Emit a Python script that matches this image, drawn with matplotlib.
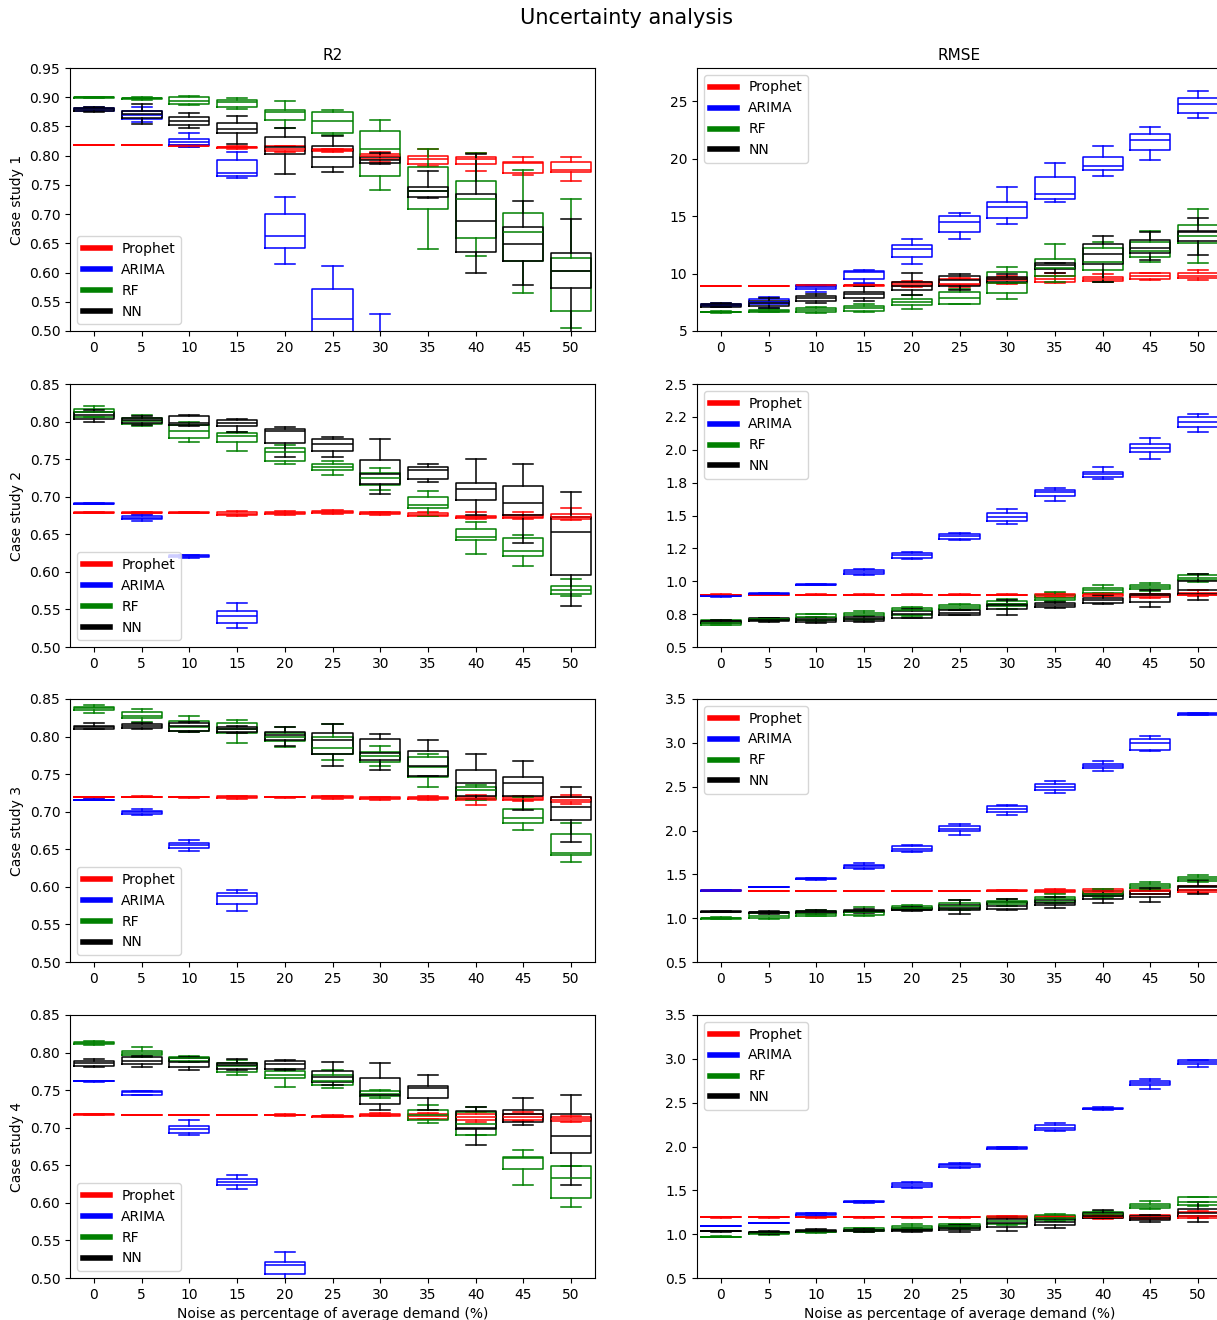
import matplotlib
matplotlib.use("Agg")
import matplotlib.pyplot as plt
from matplotlib.lines import Line2D
from matplotlib.ticker import MultipleLocator, FormatStrFormatter

noise = [0, 5, 10, 15, 20, 25, 30, 35, 40, 45, 50]
models = ['Prophet', 'ARIMA', 'RF', 'NN']
colors = ['red', 'blue', 'green', 'black']

# every row is (lower whisker, q1, median, q3, upper whisker) for one noise level

# ---- case study 1 ----
prophet1_r2 = [(0.8175, 0.8178, 0.818, 0.8182, 0.8185), (0.8175, 0.8178, 0.818, 0.8182, 0.8185),
               (0.815, 0.816, 0.817, 0.818, 0.819), (0.812, 0.813, 0.814, 0.815, 0.816),
               (0.807, 0.808, 0.811, 0.816, 0.817), (0.806, 0.808, 0.809, 0.811, 0.812),
               (0.790, 0.794, 0.799, 0.803, 0.807), (0.782, 0.786, 0.794, 0.800, 0.811),
               (0.773, 0.786, 0.794, 0.797, 0.804), (0.767, 0.771, 0.787, 0.790, 0.797),
               (0.757, 0.772, 0.776, 0.789, 0.797)]
arima1_r2 = [(0.876, 0.877, 0.879, 0.881, 0.883), (0.857, 0.863, 0.870, 0.876, 0.883),
             (0.815, 0.819, 0.823, 0.829, 0.839), (0.761, 0.765, 0.770, 0.793, 0.806),
             (0.614, 0.642, 0.663, 0.700, 0.730), (0.460, 0.490, 0.520, 0.572, 0.612),
             (0.410, 0.440, 0.460, 0.480, 0.529), (0.360, 0.380, 0.400, 0.420, 0.440),
             (0.330, 0.350, 0.370, 0.390, 0.410), (0.300, 0.320, 0.340, 0.360, 0.380),
             (0.270, 0.290, 0.310, 0.330, 0.350)]
rf1_r2 = [(0.899, 0.8995, 0.900, 0.9003, 0.9005), (0.896, 0.897, 0.898, 0.899, 0.900),
          (0.887, 0.888, 0.893, 0.900, 0.902), (0.879, 0.883, 0.891, 0.895, 0.899),
          (0.847, 0.861, 0.874, 0.878, 0.893), (0.835, 0.839, 0.860, 0.875, 0.878),
          (0.742, 0.765, 0.811, 0.842, 0.861), (0.640, 0.708, 0.739, 0.780, 0.811),
          (0.629, 0.659, 0.725, 0.756, 0.804), (0.565, 0.619, 0.669, 0.702, 0.776),
          (0.505, 0.535, 0.603, 0.625, 0.726)]
nn1_r2 = [(0.875, 0.877, 0.879, 0.882, 0.884), (0.855, 0.864, 0.872, 0.877, 0.889),
          (0.847, 0.853, 0.860, 0.866, 0.873), (0.820, 0.839, 0.845, 0.856, 0.868),
          (0.768, 0.802, 0.815, 0.832, 0.847), (0.772, 0.781, 0.798, 0.817, 0.833),
          (0.786, 0.787, 0.793, 0.797, 0.804), (0.728, 0.729, 0.740, 0.747, 0.774),
          (0.599, 0.636, 0.688, 0.735, 0.802), (0.579, 0.619, 0.649, 0.678, 0.722),
          (0.480, 0.573, 0.602, 0.633, 0.692)]

prophet1_rmse = [(8.88, 8.90, 8.92, 8.94, 8.96), (8.88, 8.90, 8.92, 8.94, 8.96),
                 (8.90, 8.93, 8.97, 9.00, 9.02), (8.92, 8.95, 9.00, 9.04, 9.06),
                 (8.84, 8.92, 9.13, 9.27, 9.36), (8.84, 8.98, 9.13, 9.50, 9.65),
                 (9.10, 9.22, 9.45, 9.65, 9.80), (9.16, 9.27, 9.50, 9.80, 10.09),
                 (9.27, 9.36, 9.56, 9.74, 9.94), (9.42, 9.56, 9.80, 10.03, 10.09),
                 (9.45, 9.60, 9.80, 10.05, 10.30)]
arima1_rmse = [(7.10, 7.18, 7.25, 7.32, 7.40), (7.03, 7.33, 7.56, 7.82, 7.99),
               (8.43, 8.63, 8.84, 8.98, 9.04), (9.16, 9.50, 10.10, 10.20, 10.29),
               (10.87, 11.40, 12.18, 12.50, 13.00), (13.00, 13.66, 14.50, 15.03, 15.26),
               (14.36, 14.88, 15.81, 16.25, 17.50), (16.25, 16.48, 16.92, 18.37, 19.62),
               (18.52, 19.01, 19.33, 20.17, 21.13), (19.91, 20.76, 21.63, 22.15, 22.76),
               (23.55, 23.98, 24.77, 25.26, 25.93)]
rf1_rmse = [(6.60, 6.63, 6.66, 6.69, 6.72), (6.62, 6.66, 6.74, 6.83, 6.88),
            (6.60, 6.66, 6.83, 7.03, 7.12), (6.66, 6.74, 6.98, 7.18, 7.33),
            (6.89, 7.24, 7.53, 7.76, 8.14), (7.33, 7.38, 7.85, 8.43, 8.63),
            (7.82, 8.34, 9.22, 10.17, 10.61), (9.27, 9.80, 10.52, 11.30, 12.56),
            (9.27, 10.29, 11.02, 12.20, 12.76), (11.05, 11.40, 11.98, 12.76, 13.72),
            (10.96, 12.70, 13.28, 14.24, 15.61)]
nn1_rmse = [(7.06, 7.12, 7.27, 7.38, 7.44), (7.00, 7.20, 7.40, 7.60, 7.90),
            (7.47, 7.65, 7.85, 8.05, 8.26), (7.62, 7.91, 8.26, 8.43, 8.92),
            (8.14, 8.55, 8.92, 9.27, 10.09), (8.55, 8.92, 9.45, 9.80, 10.00),
            (9.16, 9.27, 9.50, 9.71, 10.00), (10.09, 10.44, 10.73, 10.90, 10.96),
            (9.27, 10.80, 11.69, 12.60, 13.23), (11.20, 11.83, 12.27, 12.90, 13.58),
            (11.60, 12.85, 13.58, 13.72, 14.88)]

# ---- case study 2 ----
prophet2_r2 = [(0.678, 0.6785, 0.6787, 0.679, 0.6795), (0.677, 0.678, 0.6787, 0.679, 0.680),
               (0.678, 0.6783, 0.6787, 0.679, 0.6795), (0.675, 0.6755, 0.677, 0.680, 0.681),
               (0.676, 0.677, 0.678, 0.680, 0.681), (0.677, 0.678, 0.6795, 0.681, 0.682),
               (0.676, 0.677, 0.678, 0.679, 0.680), (0.674, 0.675, 0.676, 0.678, 0.679),
               (0.670, 0.672, 0.6733, 0.675, 0.679), (0.670, 0.672, 0.6733, 0.676, 0.680),
               (0.6689, 0.6702, 0.6733, 0.6764, 0.6844)]
arima2_r2 = [(0.690, 0.6903, 0.6907, 0.691, 0.6913), (0.668, 0.670, 0.672, 0.674, 0.676),
             (0.619, 0.620, 0.6208, 0.622, 0.623), (0.5258, 0.5324, 0.5413, 0.5484, 0.558),
             (0.440, 0.450, 0.460, 0.470, 0.480), (0.410, 0.420, 0.430, 0.440, 0.450),
             (0.380, 0.390, 0.400, 0.410, 0.420), (0.350, 0.360, 0.370, 0.380, 0.390),
             (0.320, 0.330, 0.340, 0.350, 0.360), (0.290, 0.300, 0.310, 0.320, 0.330),
             (0.260, 0.270, 0.280, 0.290, 0.300)]
rf2_r2 = [(0.806, 0.8064, 0.8121, 0.8167, 0.821), (0.7946, 0.7964, 0.8009, 0.8053, 0.809),
          (0.773, 0.7784, 0.7873, 0.7953, 0.800), (0.7606, 0.773, 0.781, 0.7842, 0.7864),
          (0.7433, 0.7473, 0.759, 0.7642, 0.7687), (0.7295, 0.7353, 0.740, 0.7442, 0.7473),
          (0.7089, 0.7155, 0.7244, 0.7311, 0.7378), (0.6745, 0.685, 0.6889, 0.699, 0.7078),
          (0.6244, 0.6422, 0.6467, 0.6564, 0.6667), (0.608, 0.6213, 0.6276, 0.6453, 0.6489),
          (0.5675, 0.570, 0.5756, 0.5813, 0.5902)]
nn2_r2 = [(0.799, 0.804, 0.809, 0.813, 0.815), (0.796, 0.798, 0.802, 0.805, 0.808),
          (0.7946, 0.7953, 0.798, 0.807, 0.809), (0.7864, 0.794, 0.798, 0.802, 0.8033),
          (0.7522, 0.7709, 0.7873, 0.790, 0.7922), (0.7531, 0.7607, 0.7704, 0.7762, 0.7798),
          (0.704, 0.7164, 0.730, 0.7484, 0.7767), (0.7198, 0.7233, 0.7353, 0.7389, 0.7442),
          (0.6755, 0.6955, 0.7098, 0.7178, 0.750), (0.6386, 0.6755, 0.6911, 0.7146, 0.743),
          (0.5542, 0.5964, 0.6524, 0.6733, 0.7058)]

prophet2_rmse = [(0.896, 0.897, 0.898, 0.899, 0.900), (0.896, 0.897, 0.898, 0.899, 0.900),
                 (0.896, 0.897, 0.898, 0.899, 0.900), (0.896, 0.897, 0.898, 0.899, 0.900),
                 (0.896, 0.897, 0.898, 0.899, 0.900), (0.896, 0.897, 0.898, 0.899, 0.900),
                 (0.896, 0.897, 0.898, 0.899, 0.900), (0.878, 0.881, 0.893, 0.906, 0.910),
                 (0.885, 0.890, 0.900, 0.906, 0.912), (0.875, 0.881, 0.893, 0.900, 0.906),
                 (0.890, 0.895, 0.898, 0.910, 0.930)]
arima2_rmse = [(0.884, 0.885, 0.886, 0.887, 0.888), (0.904, 0.905, 0.906, 0.907, 0.908),
               (0.973, 0.974, 0.975, 0.976, 0.977), (1.046, 1.053, 1.071, 1.089, 1.096),
               (1.173, 1.178, 1.198, 1.216, 1.223), (1.317, 1.325, 1.343, 1.360, 1.368),
               (1.434, 1.459, 1.490, 1.520, 1.553), (1.612, 1.650, 1.675, 1.693, 1.706),
               (1.774, 1.794, 1.815, 1.832, 1.870), (1.926, 1.985, 2.015, 2.040, 2.090),
               (2.132, 2.175, 2.208, 2.246, 2.269)]
rf2_rmse = [(0.665, 0.670, 0.685, 0.703, 0.708), (0.700, 0.705, 0.710, 0.715, 0.720),
            (0.695, 0.703, 0.728, 0.749, 0.754), (0.703, 0.716, 0.746, 0.759, 0.774),
            (0.736, 0.746, 0.779, 0.797, 0.805), (0.779, 0.787, 0.805, 0.822, 0.830),
            (0.792, 0.812, 0.830, 0.848, 0.863), (0.850, 0.860, 0.876, 0.893, 0.919),
            (0.906, 0.914, 0.931, 0.949, 0.970), (0.924, 0.939, 0.957, 0.975, 0.990),
            (0.995, 1.008, 1.028, 1.046, 1.058)]
nn2_rmse = [(0.680, 0.685, 0.695, 0.700, 0.705), (0.690, 0.695, 0.708, 0.718, 0.722),
            (0.685, 0.690, 0.708, 0.720, 0.725), (0.690, 0.695, 0.711, 0.728, 0.736),
            (0.720, 0.723, 0.749, 0.772, 0.792), (0.741, 0.746, 0.761, 0.779, 0.784),
            (0.746, 0.792, 0.817, 0.830, 0.855), (0.797, 0.805, 0.820, 0.835, 0.843),
            (0.830, 0.835, 0.855, 0.873, 0.893), (0.805, 0.843, 0.893, 0.906, 0.931),
            (0.860, 0.906, 0.937, 1.000, 1.058)]

# ---- case study 3 ----
prophet3_r2 = [(0.7188, 0.719, 0.7193, 0.7196, 0.7198), (0.7195, 0.7198, 0.720, 0.7202, 0.7205),
               (0.7188, 0.719, 0.7193, 0.7196, 0.7198), (0.717, 0.718, 0.7193, 0.7205, 0.721),
               (0.7188, 0.719, 0.7193, 0.7196, 0.7198), (0.717, 0.718, 0.7193, 0.7205, 0.721),
               (0.716, 0.7165, 0.718, 0.719, 0.720), (0.716, 0.717, 0.7184, 0.720, 0.721),
               (0.7096, 0.715, 0.7171, 0.719, 0.722), (0.714, 0.715, 0.7175, 0.720, 0.721),
               (0.710, 0.713, 0.7162, 0.720, 0.722)]
arima3_r2 = [(0.7155, 0.7158, 0.716, 0.7162, 0.7165), (0.696, 0.6976, 0.6995, 0.7012, 0.703),
             (0.6479, 0.6523, 0.6554, 0.6585, 0.663), (0.568, 0.5768, 0.5879, 0.5919, 0.5964),
             (0.440, 0.450, 0.460, 0.470, 0.480), (0.400, 0.410, 0.420, 0.430, 0.440),
             (0.360, 0.370, 0.380, 0.390, 0.400), (0.320, 0.330, 0.340, 0.350, 0.360),
             (0.280, 0.290, 0.300, 0.310, 0.320), (0.240, 0.250, 0.260, 0.270, 0.280),
             (0.200, 0.210, 0.220, 0.230, 0.240)]
rf3_r2 = [(0.8316, 0.8352, 0.8374, 0.8396, 0.8414), (0.8197, 0.8241, 0.8272, 0.8325, 0.8361),
          (0.8064, 0.8077, 0.813, 0.821, 0.8272), (0.7908, 0.8051, 0.8095, 0.8175, 0.822),
          (0.7855, 0.7944, 0.800, 0.8051, 0.813), (0.7686, 0.7766, 0.7842, 0.800, 0.8166),
          (0.7611, 0.7655, 0.774, 0.7798, 0.7877), (0.7331, 0.7464, 0.7597, 0.773, 0.7762),
          (0.7153, 0.7175, 0.7287, 0.7331, 0.7362), (0.6763, 0.6856, 0.6918, 0.7042, 0.720),
          (0.6333, 0.643, 0.6452, 0.6709, 0.6856)]
nn3_r2 = [(0.8095, 0.8104, 0.8121, 0.814, 0.8175), (0.8104, 0.8108, 0.8139, 0.8166, 0.8184),
          (0.8064, 0.8077, 0.8139, 0.8184, 0.8197), (0.8051, 0.8064, 0.810, 0.8121, 0.8139),
          (0.7873, 0.7953, 0.802, 0.8064, 0.813), (0.7611, 0.7762, 0.7953, 0.8042, 0.8166),
          (0.7553, 0.7686, 0.7776, 0.7962, 0.8037), (0.7473, 0.7478, 0.7606, 0.7811, 0.7953),
          (0.7175, 0.7207, 0.7384, 0.7549, 0.7762), (0.7029, 0.7207, 0.7384, 0.7456, 0.7677),
          (0.660, 0.6889, 0.7058, 0.720, 0.7324)]

prophet3_rmse = [(1.310, 1.312, 1.314, 1.316, 1.318), (1.306, 1.308, 1.310, 1.312, 1.314),
                 (1.306, 1.308, 1.310, 1.312, 1.314), (1.306, 1.308, 1.310, 1.312, 1.314),
                 (1.306, 1.308, 1.310, 1.312, 1.314), (1.306, 1.308, 1.310, 1.312, 1.314),
                 (1.310, 1.312, 1.314, 1.316, 1.318), (1.290, 1.297, 1.314, 1.325, 1.330),
                 (1.280, 1.290, 1.314, 1.330, 1.335), (1.270, 1.280, 1.306, 1.325, 1.330),
                 (1.290, 1.302, 1.325, 1.363, 1.370)]
arima3_rmse = [(1.313, 1.314, 1.315, 1.316, 1.317), (1.352, 1.354, 1.355, 1.356, 1.358),
               (1.440, 1.445, 1.450, 1.455, 1.460), (1.561, 1.572, 1.591, 1.610, 1.629),
               (1.760, 1.770, 1.793, 1.819, 1.830), (1.952, 1.998, 2.021, 2.047, 2.074),
               (2.177, 2.211, 2.245, 2.276, 2.287), (2.428, 2.466, 2.500, 2.530, 2.568),
               (2.675, 2.713, 2.736, 2.762, 2.789), (2.910, 2.922, 2.998, 3.047, 3.074),
               (3.315, 3.320, 3.329, 3.340, 3.345)]
rf3_rmse = [(0.990, 0.993, 0.998, 1.003, 1.008), (0.995, 1.002, 1.028, 1.059, 1.066),
            (1.020, 1.028, 1.051, 1.082, 1.090), (1.028, 1.040, 1.066, 1.085, 1.127),
            (1.090, 1.100, 1.112, 1.135, 1.154), (1.090, 1.105, 1.143, 1.173, 1.211),
            (1.140, 1.160, 1.181, 1.200, 1.222), (1.170, 1.190, 1.219, 1.245, 1.279),
            (1.230, 1.250, 1.279, 1.310, 1.333), (1.320, 1.340, 1.363, 1.385, 1.412),
            (1.410, 1.420, 1.447, 1.475, 1.496)]
nn3_rmse = [(1.065, 1.070, 1.074, 1.078, 1.082), (1.050, 1.058, 1.066, 1.075, 1.080),
            (1.050, 1.058, 1.070, 1.082, 1.090), (1.060, 1.070, 1.082, 1.090, 1.100),
            (1.080, 1.090, 1.097, 1.116, 1.125), (1.051, 1.097, 1.116, 1.154, 1.203),
            (1.097, 1.108, 1.143, 1.181, 1.222), (1.112, 1.146, 1.173, 1.211, 1.240),
            (1.173, 1.219, 1.249, 1.279, 1.306), (1.188, 1.241, 1.279, 1.314, 1.340),
            (1.279, 1.320, 1.355, 1.370, 1.431)]

# ---- case study 4 ----
prophet4_r2 = [(0.7172, 0.7174, 0.7176, 0.7178, 0.718), (0.7166, 0.7168, 0.717, 0.7172, 0.7174),
               (0.7166, 0.7168, 0.717, 0.7172, 0.7174), (0.7166, 0.7168, 0.717, 0.7172, 0.7174),
               (0.716, 0.7165, 0.717, 0.7175, 0.718), (0.714, 0.7145, 0.7153, 0.716, 0.7165),
               (0.715, 0.716, 0.7167, 0.718, 0.719), (0.711, 0.7122, 0.7153, 0.7189, 0.720),
               (0.708, 0.710, 0.7136, 0.7189, 0.721), (0.709, 0.710, 0.7144, 0.7189, 0.721),
               (0.708, 0.7087, 0.7122, 0.7145, 0.716)]
arima4_r2 = [(0.7615, 0.7618, 0.762, 0.7622, 0.7625), (0.7435, 0.7442, 0.7469, 0.7487, 0.749),
             (0.690, 0.6936, 0.698, 0.7025, 0.710), (0.6181, 0.6243, 0.6278, 0.6314, 0.6368),
             (0.490, 0.5058, 0.5178, 0.5213, 0.5346), (0.400, 0.410, 0.420, 0.430, 0.440),
             (0.330, 0.340, 0.350, 0.360, 0.370), (0.270, 0.280, 0.290, 0.300, 0.310),
             (0.210, 0.220, 0.230, 0.240, 0.250), (0.150, 0.160, 0.170, 0.180, 0.190),
             (0.090, 0.100, 0.110, 0.120, 0.130)]
rf4_r2 = [(0.8105, 0.8115, 0.813, 0.8145, 0.8155), (0.7944, 0.7966, 0.7997, 0.8022, 0.8068),
          (0.787, 0.7891, 0.7922, 0.7944, 0.796), (0.7708, 0.7744, 0.7824, 0.7855, 0.790),
          (0.7544, 0.7655, 0.7708, 0.7757, 0.7788), (0.7531, 0.7566, 0.762, 0.770, 0.7766),
          (0.7389, 0.7424, 0.7455, 0.7486, 0.750), (0.7069, 0.710, 0.7167, 0.7242, 0.730),
          (0.690, 0.6909, 0.7056, 0.7211, 0.7278), (0.6235, 0.6447, 0.660, 0.6611, 0.670),
          (0.5946, 0.6066, 0.6336, 0.6487, 0.6487)]
nn4_r2 = [(0.7802, 0.7824, 0.7855, 0.7891, 0.7909), (0.7806, 0.7842, 0.7886, 0.7935, 0.796),
          (0.7762, 0.781, 0.7877, 0.7922, 0.7944), (0.7766, 0.7788, 0.7833, 0.7864, 0.7913),
          (0.777, 0.7788, 0.7842, 0.7891, 0.790), (0.7566, 0.7602, 0.7678, 0.7753, 0.7868),
          (0.7242, 0.7309, 0.7442, 0.7655, 0.7855), (0.7233, 0.7398, 0.7531, 0.7553, 0.7708),
          (0.6776, 0.6985, 0.6998, 0.722, 0.7278), (0.7042, 0.7078, 0.7189, 0.7233, 0.7389),
          (0.6243, 0.667, 0.6887, 0.7189, 0.7442)]

prophet4_rmse = [(1.190, 1.192, 1.194, 1.196, 1.198), (1.190, 1.192, 1.194, 1.196, 1.198),
                 (1.190, 1.192, 1.194, 1.196, 1.198), (1.190, 1.192, 1.194, 1.196, 1.198),
                 (1.190, 1.192, 1.194, 1.196, 1.198), (1.190, 1.192, 1.194, 1.196, 1.198),
                 (1.185, 1.190, 1.194, 1.206, 1.210), (1.185, 1.190, 1.194, 1.206, 1.210),
                 (1.175, 1.179, 1.194, 1.217, 1.220), (1.170, 1.171, 1.194, 1.217, 1.220),
                 (1.180, 1.190, 1.210, 1.255, 1.260)]
arima4_rmse = [(1.094, 1.095, 1.096, 1.097, 1.098), (1.128, 1.129, 1.130, 1.131, 1.132),
               (1.210, 1.217, 1.228, 1.240, 1.245), (1.360, 1.365, 1.369, 1.377, 1.380),
               (1.530, 1.540, 1.559, 1.585, 1.590), (1.760, 1.770, 1.786, 1.805, 1.810),
               (1.970, 1.976, 1.983, 1.995, 2.000), (2.173, 2.190, 2.215, 2.240, 2.268),
               (2.420, 2.425, 2.431, 2.440, 2.445), (2.659, 2.700, 2.727, 2.750, 2.772),
               (2.905, 2.940, 2.962, 2.985, 2.990)]
rf4_rmse = [(0.965, 0.967, 0.970, 0.973, 0.975), (0.990, 1.000, 1.008, 1.020, 1.025),
            (1.010, 1.020, 1.027, 1.040, 1.045), (1.030, 1.040, 1.046, 1.065, 1.070),
            (1.040, 1.050, 1.073, 1.096, 1.115), (1.060, 1.070, 1.092, 1.115, 1.120),
            (1.100, 1.115, 1.149, 1.191, 1.200), (1.150, 1.160, 1.190, 1.220, 1.230),
            (1.180, 1.200, 1.228, 1.255, 1.266), (1.290, 1.300, 1.320, 1.345, 1.376),
            (1.320, 1.335, 1.369, 1.422, 1.426)]
nn4_rmse = [(1.030, 1.032, 1.035, 1.038, 1.040), (1.000, 1.008, 1.020, 1.030, 1.040),
            (1.020, 1.030, 1.039, 1.050, 1.060), (1.030, 1.035, 1.043, 1.052, 1.060),
            (1.030, 1.035, 1.046, 1.060, 1.070), (1.027, 1.050, 1.073, 1.092, 1.100),
            (1.035, 1.084, 1.122, 1.168, 1.198), (1.073, 1.103, 1.141, 1.168, 1.179),
            (1.180, 1.190, 1.210, 1.236, 1.274), (1.141, 1.160, 1.190, 1.206, 1.220),
            (1.134, 1.206, 1.247, 1.285, 1.369)]

r2_sets = [
    [prophet1_r2, arima1_r2, rf1_r2, nn1_r2],
    [prophet2_r2, arima2_r2, rf2_r2, nn2_r2],
    [prophet3_r2, arima3_r2, rf3_r2, nn3_r2],
    [prophet4_r2, arima4_r2, rf4_r2, nn4_r2],
]
rmse_sets = [
    [prophet1_rmse, arima1_rmse, rf1_rmse, nn1_rmse],
    [prophet2_rmse, arima2_rmse, rf2_rmse, nn2_rmse],
    [prophet3_rmse, arima3_rmse, rf3_rmse, nn3_rmse],
    [prophet4_rmse, arima4_rmse, rf4_rmse, nn4_rmse],
]
r2_limits = [(0.5, 0.95), (0.5, 0.85), (0.5, 0.85), (0.5, 0.85)]
rmse_limits = [(5, 27.9), (0.5, 2.5), (0.5, 3.5), (0.5, 3.5)]
rmse_steps = [5, 0.25, 0.5, 0.5]


def draw_boxes(ax, rows, color):
    stats = [dict(whislo=r[0], q1=r[1], med=r[2], q3=r[3], whishi=r[4]) for r in rows]
    line = dict(color=color, linewidth=1.1)
    ax.bxp(stats, positions=noise, widths=4.2, showfliers=False, manage_ticks=False,
           boxprops=line, medianprops=line, whiskerprops=line, capprops=line)


def add_legend(ax, loc):
    handles = [Line2D([], [], color=c, lw=4) for c in colors]
    ax.legend(handles, models, loc=loc, fontsize=10)


W, H = 1217, 1320
fig = plt.figure(figsize=(W / 100, H / 100), dpi=100)

row_tops = [68, 384, 699, 1015]
ax_h = 263
left_x, right_x, ax_w = 70, 697, 525

for i in range(4):
    bottom = 1 - (row_tops[i] + ax_h) / H
    ax_r2 = fig.add_axes([left_x / W, bottom, ax_w / W, ax_h / H])
    ax_rm = fig.add_axes([right_x / W, bottom, ax_w / W, ax_h / H])

    for rows, c in zip(r2_sets[i], colors):
        draw_boxes(ax_r2, rows, c)
    for rows, c in zip(rmse_sets[i], colors):
        draw_boxes(ax_rm, rows, c)

    for ax in (ax_r2, ax_rm):
        ax.set_xlim(-2.5, 52.5)
        ax.set_xticks(noise)
        ax.set_xticklabels([str(n) for n in noise])
        ax.tick_params(labelsize=10)

    ax_r2.set_ylim(*r2_limits[i])
    ax_r2.yaxis.set_major_locator(MultipleLocator(0.05))
    ax_r2.yaxis.set_major_formatter(FormatStrFormatter('%.2f'))
    ax_r2.set_ylabel(f'Case study {i + 1}', fontsize=10)
    add_legend(ax_r2, 'lower left')

    ax_rm.set_ylim(*rmse_limits[i])
    ax_rm.yaxis.set_major_locator(MultipleLocator(rmse_steps[i]))
    if i > 0:
        ax_rm.yaxis.set_major_formatter(FormatStrFormatter('%.1f'))
    add_legend(ax_rm, 'upper left')

    if i == 0:
        ax_r2.set_title('R2', fontsize=11)
        ax_rm.set_title('RMSE', fontsize=11)
    if i == 3:
        ax_r2.set_xlabel('Noise as percentage of average demand (%)', fontsize=10)
        ax_rm.set_xlabel('Noise as percentage of average demand (%)', fontsize=10)

fig.text(627 / W, 1 - 18 / H, 'Uncertainty analysis', ha='center', va='center', fontsize=15)

fig.savefig('out.png', dpi=100)
